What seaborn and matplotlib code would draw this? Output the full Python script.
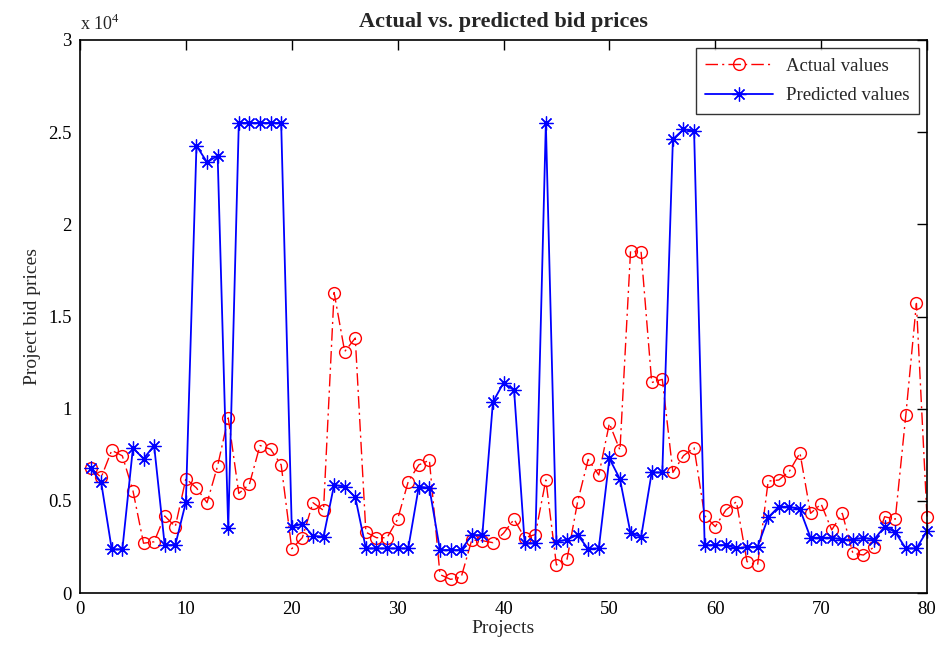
import matplotlib
matplotlib.use("Agg")
import matplotlib.pyplot as plt
import seaborn as sns
import numpy as np
import pandas as pd
from matplotlib.ticker import FuncFormatter, MultipleLocator

projects = list(range(1, 81))

actual_values = [0.68, 0.627, 0.774, 0.744, 0.555, 0.27, 0.278, 0.418, 0.36, 0.62,
                 0.57, 0.49, 0.69, 0.95, 0.54, 0.59, 0.80, 0.78, 0.695, 0.24,
                 0.30, 0.49, 0.448, 1.63, 1.31, 1.383, 0.33, 0.30, 0.30, 0.40,
                 0.604, 0.695, 0.72, 0.10, 0.074, 0.085, 0.287, 0.284, 0.273, 0.324,
                 0.40, 0.30, 0.317, 0.613, 0.152, 0.183, 0.495, 0.725, 0.64, 0.92,
                 0.775, 1.855, 1.848, 1.142, 1.159, 0.654, 0.745, 0.788, 0.419, 0.36,
                 0.45, 0.495, 0.17, 0.152, 0.607, 0.613, 0.66, 0.76, 0.432, 0.483,
                 0.342, 0.432, 0.215, 0.206, 0.25, 0.414, 0.40, 0.965, 1.571, 0.414]

predicted_values = [0.676, 0.60, 0.237, 0.237, 0.787, 0.728, 0.80, 0.26, 0.26, 0.493,
                    2.426, 2.337, 2.372, 0.35, 2.55, 2.55, 2.55, 2.55, 2.55, 0.358,
                    0.376, 0.31, 0.305, 0.586, 0.577, 0.52, 0.242, 0.242, 0.242, 0.242,
                    0.242, 0.577, 0.57, 0.233, 0.233, 0.233, 0.314, 0.314, 1.036, 1.14,
                    1.10, 0.27, 0.27, 2.55, 0.278, 0.29, 0.315, 0.239, 0.242, 0.73,
                    0.618, 0.324, 0.305, 0.654, 0.654, 2.462, 2.515, 2.507, 0.26, 0.26,
                    0.26, 0.242, 0.25, 0.25, 0.41, 0.468, 0.468, 0.454, 0.30, 0.30,
                    0.30, 0.29, 0.29, 0.30, 0.29, 0.36, 0.33, 0.242, 0.242, 0.336]

scale = 1e4
title = "Actual vs. predicted bid prices"
xlabel = "Projects"
ylabel = "Project bid prices"
labels = ["Actual values", "Predicted values"]

df = pd.DataFrame({
    "project": projects,
    "actual": np.array(actual_values) * scale,
    "predicted": np.array(predicted_values) * scale,
})

sns.set_style("white")
plt.rcParams["font.family"] = ["Liberation Serif", "DejaVu Serif"]
plt.rcParams["mathtext.fontset"] = "custom"
plt.rcParams["mathtext.rm"] = "Liberation Serif"

fig = plt.figure(figsize=(9.38, 6.52), dpi=100)
ax = fig.add_axes([80 / 938, 1 - 593 / 652, (927 - 80) / 938, (593 - 40) / 652])

sns.lineplot(data=df, x="project", y="actual", ax=ax, color="#ff0000",
             linestyle=(0, (9, 3, 1.5, 3)), linewidth=1.0, marker="o", markersize=8.5,
             markerfacecolor="none", markeredgecolor="#ff0000", markeredgewidth=1.0,
             label=labels[0], clip_on=False)
sns.lineplot(data=df, x="project", y="predicted", ax=ax, color="#0000ff",
             linestyle="-", linewidth=1.3, marker=(8, 2, 0), markersize=10,
             markeredgecolor="#0000ff", markeredgewidth=0.9, label=labels[1],
             clip_on=False)
sns.lineplot(data=df, x="project", y="predicted", ax=ax, color="#0000ff",
             linestyle="none", marker="o", markersize=3.5, markeredgewidth=0,
             legend=False, clip_on=False)

ax.set_xlim(0, 80)
ax.set_ylim(0, 3 * scale)
ax.xaxis.set_major_locator(MultipleLocator(10))
ax.yaxis.set_major_locator(MultipleLocator(0.5 * scale))
ax.yaxis.set_major_formatter(FuncFormatter(lambda v, p: f"{v / scale:g}"))
ax.tick_params(direction="in", top=True, right=True, length=7, width=1,
               labelsize=13.5, colors="black", pad=6)
for s in ax.spines.values():
    s.set_color("black")
    s.set_linewidth(1.2)

ax.set_title(title, fontsize=16, fontweight="bold", pad=9)
ax.set_xlabel(xlabel, fontsize=14, labelpad=1)
ax.set_ylabel(ylabel, fontsize=14, labelpad=5)
ax.text(0.0, 1.01, r"x 10$^{4}$", transform=ax.transAxes, fontsize=13,
        ha="left", va="bottom")

leg = ax.legend(loc="upper right", fontsize=13.5, handlelength=3.6, frameon=True,
                fancybox=False, edgecolor="black", borderpad=0.5,
                borderaxespad=0.45, labelspacing=0.65, handletextpad=0.7)
leg.get_frame().set_linewidth(1.0)

fig.savefig("out.png", dpi=100)
